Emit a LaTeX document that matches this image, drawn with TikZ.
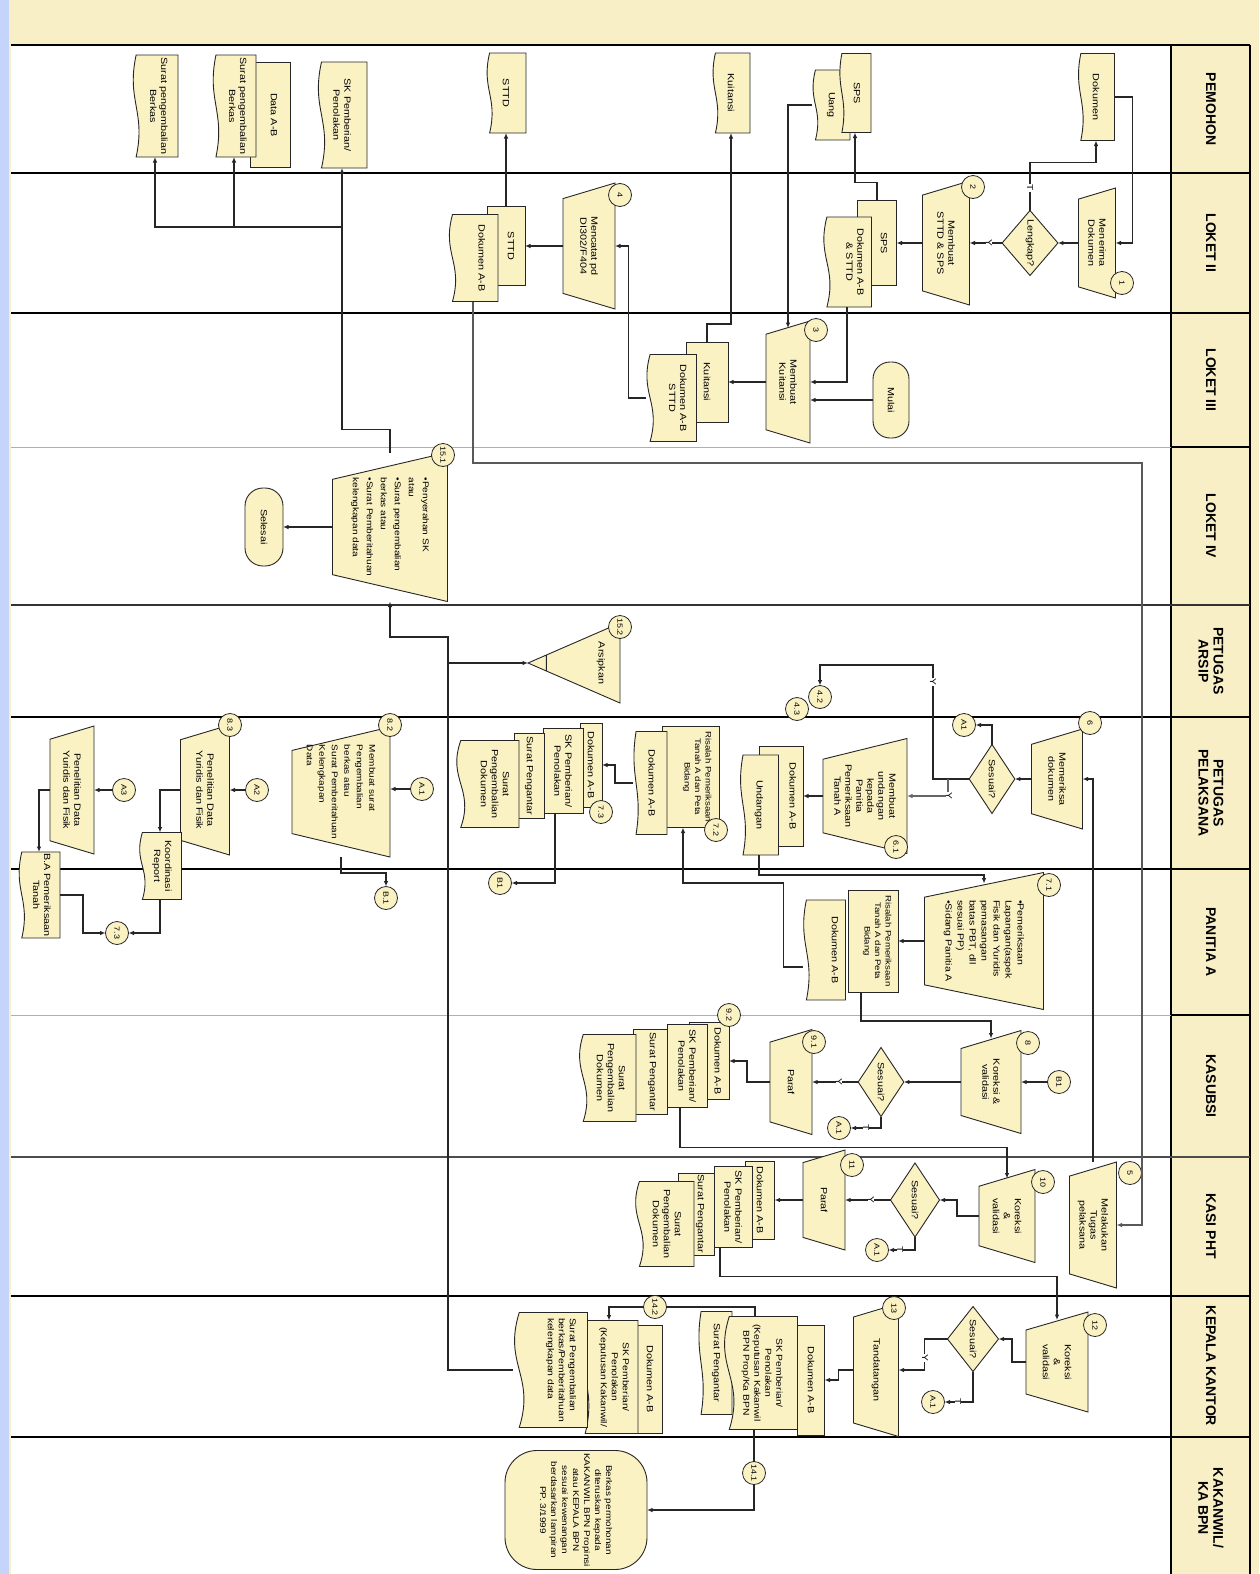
\documentclass[tikz,border=0pt]{standalone}
\usepackage{fontspec}
\setmainfont{Liberation Sans}
\newfontfamily\wfont{Liberation Sans}[FakeStretch=1.2]
\usetikzlibrary{arrows.meta,shapes.geometric,calc}
\definecolor{shp}{RGB}{251,242,196}
\definecolor{frm}{RGB}{249,239,199}
\definecolor{blu}{RGB}{196,212,250}
\definecolor{lgr}{RGB}{175,175,175}
\makeatletter
\pgfdeclareshape{docu}{%
  \inheritsavedanchors[from=rectangle]%
  \inheritanchorborder[from=rectangle]%
  \inheritanchor[from=rectangle]{center}%
  \inheritanchor[from=rectangle]{north}%
  \inheritanchor[from=rectangle]{south}%
  \inheritanchor[from=rectangle]{east}%
  \inheritanchor[from=rectangle]{west}%
  \inheritanchor[from=rectangle]{north east}%
  \inheritanchor[from=rectangle]{north west}%
  \inheritanchor[from=rectangle]{south east}%
  \inheritanchor[from=rectangle]{south west}%
  \backgroundpath{%
    \southwest\pgf@xa=\pgf@x\pgf@ya=\pgf@y
    \northeast\pgf@xb=\pgf@x\pgf@yb=\pgf@y
    \edef\dcxa{\strip@pt\pgf@xa}\edef\dcya{\strip@pt\pgf@ya}%
    \edef\dcxb{\strip@pt\pgf@xb}\edef\dcyb{\strip@pt\pgf@yb}%
    \pgfmathsetmacro\dcA{0.09*(\dcyb-\dcya)}%
    \pgfmathsetmacro\dcyw{\dcya+\dcA}%
    \pgfmathsetmacro\dcyu{\dcya+3.4*\dcA}%
    \pgfmathsetmacro\dcyd{\dcya-1.4*\dcA}%
    \pgfmathsetmacro\dcxc{\dcxb-0.45*(\dcxb-\dcxa)}%
    \pgfmathsetmacro\dcxd{\dcxa+0.45*(\dcxb-\dcxa)}%
    \pgfpathmoveto{\pgfqpoint{\dcxa pt}{\dcyw pt}}%
    \pgfpathlineto{\pgfqpoint{\dcxa pt}{\dcyb pt}}%
    \pgfpathlineto{\pgfqpoint{\dcxb pt}{\dcyb pt}}%
    \pgfpathlineto{\pgfqpoint{\dcxb pt}{\dcyw pt}}%
    \pgfpathcurveto{\pgfqpoint{\dcxc pt}{\dcyu pt}}{\pgfqpoint{\dcxd pt}{\dcyd pt}}{\pgfqpoint{\dcxa pt}{\dcyw pt}}%
    \pgfpathclose
  }%
}
\pgfdeclareshape{manop}{%
  \inheritsavedanchors[from=rectangle]%
  \inheritanchorborder[from=rectangle]%
  \inheritanchor[from=rectangle]{center}%
  \inheritanchor[from=rectangle]{north}%
  \inheritanchor[from=rectangle]{south}%
  \inheritanchor[from=rectangle]{east}%
  \inheritanchor[from=rectangle]{west}%
  \inheritanchor[from=rectangle]{north east}%
  \inheritanchor[from=rectangle]{north west}%
  \inheritanchor[from=rectangle]{south east}%
  \inheritanchor[from=rectangle]{south west}%
  \backgroundpath{%
    \southwest\pgf@xa=\pgf@x\pgf@ya=\pgf@y
    \northeast\pgf@xb=\pgf@x\pgf@yb=\pgf@y
    \edef\mopxa{\strip@pt\pgf@xa}\edef\mopya{\strip@pt\pgf@ya}%
    \edef\mopxb{\strip@pt\pgf@xb}\edef\mopyb{\strip@pt\pgf@yb}%
    \pgfmathsetmacro\mops{min(0.3*(\mopyb-\mopya),0.18*(\mopxb-\mopxa))}%
    \pgfmathsetmacro\mopxc{\mopxa+\mops}%
    \pgfmathsetmacro\mopxd{\mopxb-\mops}%
    \pgfpathmoveto{\pgfqpoint{\mopxa pt}{\mopyb pt}}%
    \pgfpathlineto{\pgfqpoint{\mopxb pt}{\mopyb pt}}%
    \pgfpathlineto{\pgfqpoint{\mopxd pt}{\mopya pt}}%
    \pgfpathlineto{\pgfqpoint{\mopxc pt}{\mopya pt}}%
    \pgfpathclose
  }%
}
\pgfdeclareshape{archv}{%
  \inheritsavedanchors[from=rectangle]%
  \inheritanchorborder[from=rectangle]%
  \inheritanchor[from=rectangle]{center}%
  \inheritanchor[from=rectangle]{north}%
  \inheritanchor[from=rectangle]{south}%
  \inheritanchor[from=rectangle]{east}%
  \inheritanchor[from=rectangle]{west}%
  \inheritanchor[from=rectangle]{north east}%
  \inheritanchor[from=rectangle]{north west}%
  \inheritanchor[from=rectangle]{south east}%
  \inheritanchor[from=rectangle]{south west}%
  \backgroundpath{%
    \southwest\pgf@xa=\pgf@x\pgf@ya=\pgf@y
    \northeast\pgf@xb=\pgf@x\pgf@yb=\pgf@y
    \edef\arxa{\strip@pt\pgf@xa}\edef\arya{\strip@pt\pgf@ya}%
    \edef\arxb{\strip@pt\pgf@xb}\edef\aryb{\strip@pt\pgf@yb}%
    \pgfmathsetmacro\arxm{0.5*(\arxa+\arxb)}%
    \pgfmathsetmacro\arpa{\arxm+0.2*(\arxa-\arxm)}%
    \pgfmathsetmacro\arpb{\arxm+0.2*(\arxb-\arxm)}%
    \pgfmathsetmacro\arpy{\arya+0.2*(\aryb-\arya)}%
    \pgfpathmoveto{\pgfqpoint{\arxa pt}{\aryb pt}}%
    \pgfpathlineto{\pgfqpoint{\arxb pt}{\aryb pt}}%
    \pgfpathlineto{\pgfqpoint{\arxm pt}{\arya pt}}%
    \pgfpathclose
    \pgfpathmoveto{\pgfqpoint{\arpa pt}{\arpy pt}}%
    \pgfpathlineto{\pgfqpoint{\arpb pt}{\arpy pt}}%
  }%
}
\makeatother
\tikzset{
  sh/.style={rotate=-90, draw=black!85, line width=0.9pt, fill=shp,
    font=\wfont\fontsize{9}{11}\selectfont, align=center, inner sep=1pt, outer sep=0pt},
  sz/.style 2 args={minimum width=#1pt, minimum height=#2pt},
  tup/.style={text depth=#1pt},
  box/.style={sh, rectangle},
  doc/.style={sh, shape=docu},
  manop/.style={sh, shape=manop},
  dec/.style={sh, diamond, inner sep=0pt},
  term/.style={sh, rectangle, rounded corners=#1pt},
  arch/.style={sh, shape=archv},
  num/.style={circle, draw=black!85, line width=0.8pt, fill=shp, rotate=-90,
    font=\wfont\fontsize{7.5}{8}\selectfont, minimum size=23pt, inner sep=0pt, outer sep=0pt},
  conn/.style={draw=black!85, line width=1.2pt, -{Latex[length=5.5pt,width=4.5pt]}},
  cline/.style={draw=black!85, line width=1.2pt},
  lbl/.style={rotate=-90, fill=white, inner sep=0.5pt, font=\wfont\fontsize{8.5}{9}\selectfont},
  lane/.style={rotate=-90, font=\bfseries\fontsize{14}{15}\selectfont, align=center},
}
\begin{document}
\begin{tikzpicture}[x=1pt,y=-1pt]
\useasboundingbox (0,0) rectangle (1259,1574);
\fill[frm] (0,0) rectangle (1259,1574);
\fill[blu] (0,0) rectangle (9,1574);
\fill[white] (11,46) rectangle (1171,1574);
% frame and lanes
\draw[line width=2pt] (11,45) -- (1250,45);
\draw[line width=2pt] (1171,45) -- (1171,1574);
\draw[line width=1.6pt] (1250,45) -- (1250,1574);
\draw[line width=2pt] (11,173) -- (1250,173);
\draw[line width=1.6pt] (11,313) -- (1250,313);
\draw[lgr, line width=1pt] (11,447) -- (1171,447);
\draw[line width=1.2pt] (1171,447) -- (1250,447);
\draw[black!80, line width=1.2pt] (11,605) -- (1250,605);
\draw[line width=2.4pt] (11,717) -- (1250,717);
\draw[line width=1.6pt] (11,869) -- (1250,869);
\draw[lgr, line width=1pt] (11,1015) -- (1171,1015);
\draw[line width=1.2pt] (1171,1015) -- (1250,1015);
\draw[black!70, line width=1.2pt] (11,1157) -- (1250,1157);
\draw[line width=2.4pt] (11,1296) -- (1250,1296);
\draw[line width=2.4pt] (11,1437) -- (1250,1437);
% lane labels
\node[lane] (lbA) at (1211,109) {PEMOHON};
\node[lane] (lbB) at (1211,243) {LOKET II};
\node[lane] (lbC) at (1211,380) {LOKET III};
\node[lane] (lbD) at (1211,526) {LOKET IV};
\node[lane] (lbE) at (1211,661) {PETUGAS\\ARSIP};
\node[lane] (lbF) at (1211,793) {PETUGAS\\PELAKSANA};
\node[lane] (lbG) at (1211,942) {PANITIA A};
\node[lane] (lbH) at (1211,1086) {KASUBSI};
\node[lane] (lbI) at (1211,1226) {KASI PHT};
\node[lane] (lbJ) at (1211,1366) {KEPALA KANTOR};
\node[lane] (lbK) at (1211,1508) {KAKANWIL/\\KA BPN};

% ---------- PEMOHON
\node[doc, sz={87}{37}] (pDok) at (1096,97) {Dokumen};
\node[doc, sz={70}{38}] (pUang) at (831,105) {Uang};
\node[doc, sz={79}{32}, tup=4] (pSPS) at (855,93) {SPS};
\node[doc, sz={80}{38}] (pKuit) at (731,93) {Kuitansi};
\node[doc, sz={80}{40}] (pSTTD) at (506,93) {STTD};
\node[doc, sz={106}{50}] (pSK) at (342,115) {SK Pemberian/\\Penolakan};
\node[box, sz={105}{40}, tup=8] (pData) at (270,115) {Data A-B};
\node[doc, sz={102}{44}, tup=8] (pSPB1) at (234,106) {Surat pengembalian\\Berkas};
\node[doc, sz={102}{46}, tup=8] (pSPB2) at (155,106) {Surat pengembalian\\Berkas};

% ---------- LOKET II
\node[manop, sz={110}{37}] (l2Terima) at (1097,243) {Menerima\\Dokumen};
\node[dec, sz={65}{44}] (l2Lengkap) at (1030,243) {Lengkap?};
\node[manop, sz={124}{47}] (l2Buat) at (946,243) {Membuat\\STTD \& SPS};
\node[box, sz={85}{39}, tup=14] (l2SPS) at (877,243) {SPS};
\node[doc, sz={90}{49}, tup=16] (l2Dok) at (847,262) {Dokumen A-B\\\& STTD};
\node[manop, sz={126}{52}] (l2Catat) at (589,246) {Mencatat pd\\DI302/F404};
\node[box, sz={79}{38}, tup=10] (l2STTD) at (506,246) {STTD};
\node[doc, sz={87}{50}, tup=18] (l2DokAB) at (473,258) {Dokumen A-B};

% ---------- LOKET III
\node[term=17, sz={76}{36}] (l3Mulai) at (891,400) {Mulai};
\node[manop, sz={122}{44}] (l3Kuit) at (788,382) {Membuat\\Kuitansi};
\node[box, sz={80}{42}] (l3KuitR) at (707,382) {Kuitansi};
\node[doc, sz={87}{51}, tup=14] (l3Dok) at (671,398) {Dokumen A-B\\STTD};

% ---------- LOKET IV
\node[manop, sz={149}{115}, align=left, font=\wfont\fontsize{8.4}{14}\selectfont] (l4Serah) at (390,527)
  {•Penyerahan SK\\atau\\•Surat pengembalian\\berkas atau\\•Surat Pemberitahuan\\kelengkapan data};
\node[term=18, sz={78}{38}] (l4Selesai) at (264,527) {Selesai};

% ---------- PETUGAS ARSIP
\node[arch, sz={80}{92}] (arsip) at (574,663) {};
\node[rotate=-90, font=\wfont\fontsize{9}{10}\selectfont] (arsiptxt) at (601,663) {Arsipkan};

% ---------- PETUGAS PELAKSANA
\node[manop, sz={100}{51}] (pl6) at (1057,779) {Memeriksa\\dokumen};
\node[dec, sz={69}{43}] (pl6d) at (992,779) {Sesuai?};
\node[manop, sz={115}{84}] (pl61) at (865,796) {Membuat\\undangan\\kepada\\Panitia\\Pemeriksaan\\Tanah A};
\node[box, sz={100}{44}, tup=24] (pl61R) at (781,796) {Dokumen A-B};
\node[doc, sz={100}{39}] (pl61U) at (759,805) {Undangan};
\node[box, sz={101}{57}, tup=14, font=\wfont\fontsize{8}{10.5}\selectfont] (pl72R) at (691,777) {Risalah Pemeriksaan\\Tanah A dan Peta\\Bidang};
\node[doc, sz={103}{34}, tup=4] (pl72D) at (650,783) {Dokumen A-B};
\node[box, sz={84}{22}] (pl73a) at (591,765) {Dokumen A-B};
\node[box, sz={85}{40}] (pl73b) at (563,771) {SK Pemberian/\\Penolakan};
\node[box, sz={85}{30}] (pl73c) at (529,776) {Surat Pengantar};
\node[doc, sz={87}{64}, tup=16] (pl73d) at (487,784) {Surat\\Pengembalian\\Dokumen};
\node[manop, sz={130}{98}, align=left, font=\wfont\fontsize{8.3}{12.5}\selectfont] (pl82) at (341,792)
  {Membuat surat\\Pengembalian\\berkas atau\\Surat Pemberitahuan\\Kelengkapan\\Data};
\node[manop, sz={130}{49}] (pl83a) at (205,790) {Penelitian Data\\Yuridis dan Fisik};
\node[manop, sz={128}{44}] (pl83b) at (72,790) {Penelitian Data\\Yuridis dan Fisik};
\node[doc, sz={67}{43}, tup=6] (plKor) at (160,866) {Koordinasi\\Report};
\node[doc, sz={86}{42}, tup=6] (plBA) at (39,895) {B.A Pemeriksaan\\Tanah};

% ---------- PANITIA A
\node[manop, sz={137}{119}, align=left, font=\wfont\fontsize{8.8}{12}\selectfont] (pa71) at (984,941)
  {•Pemeriksaan\\Lapangan(aspek\\Fisik dan Yuridis\\pemasangan\\batas PBT, dll\\sesuai PP)\\•Sidang Panitia A};
\node[box, sz={102}{50}, tup=10, font=\wfont\fontsize{8}{10.5}\selectfont] (pa71R) at (873,941) {Risalah Pemeriksaan\\Tanah A dan Peta\\Bidang};
\node[doc, sz={100}{43}, tup=22] (pa71D) at (824,950) {Dokumen A-B};

% ---------- KASUBSI
\node[manop, sz={103}{60}] (ks8) at (991,1082) {Koreksi \&\\validasi};
\node[dec, sz={69}{44}] (ks8d) at (881,1082) {Sesuai?};
\node[manop, sz={105}{42}] (ks91) at (791,1082) {Paraf};
\node[box, sz={77}{40}, tup=18] (ksa) at (709,1061) {Dokumen A-B};
\node[box, sz={83}{40}] (ksb) at (687,1066) {SK Pemberian/\\Penolakan};
\node[box, sz={85}{34}, tup=6] (ksc) at (650,1072) {Surat Pengantar};
\node[doc, sz={87}{58}, tup=8] (ksd) at (607,1078) {Surat\\Pengembalian\\Dokumen};

% ---------- KASI PHT
\node[manop, sz={126}{47}] (kp5) at (1093,1225) {Melakukan\\Tugas\\pelaksana};
\node[manop, sz={93}{56}] (kp10) at (1007,1216) {Koreksi\\\&\\validasi};
\node[dec, sz={74}{49}] (kp10d) at (915,1200) {Sesuai?};
\node[manop, sz={100}{42}] (kp11) at (824,1200) {Paraf};
\node[box, sz={78}{29}] (kpa) at (760,1200) {Dokumen A-B};
\node[box, sz={81}{38}] (kpb) at (733,1207) {SK Pemberian/\\Penolakan};
\node[box, sz={82}{36}, tup=10] (kpc) at (696,1214) {Surat Pengantar};
\node[doc, sz={85}{60}, tup=6] (kpd) at (664,1224) {Surat\\Pengembalian\\Dokumen};

% ---------- KEPALA KANTOR
\node[manop, sz={100}{62}] (kk12) at (1057,1362) {Koreksi\\\&\\validasi};
\node[dec, sz={65}{51}] (kk12d) at (973,1339) {Sesuai?};
\node[manop, sz={133}{45}] (kk13) at (876,1370) {Tandatangan};
\node[box, sz={110}{27}] (kka) at (811,1380) {Dokumen A-B};
\node[doc, sz={103}{34}, tup=4] (kkc) at (715,1363) {Surat Pengantar};
\node[doc, sz={113}{75}, tup=6, font=\wfont\fontsize{8.6}{11}\selectfont] (kkb) at (760,1373) {SK Pemberian/\\Penolakan\\(Keputusan Kakanwil\\BPN Prop/Ka BPN};
\node[box, sz={108}{25}] (kk2a) at (650,1379) {Dokumen A-B};
\node[doc, sz={113}{58}, tup=12, font=\wfont\fontsize{8.6}{11}\selectfont] (kk2b) at (609,1377) {SK Pemberian/\\Penolakan\\(Keputusan Kakanwil/};
\node[doc, sz={115}{75}, tup=24, align=left, font=\wfont\fontsize{8.6}{11}\selectfont] (kk2c) at (550,1370) {Surat Pengembalian\\berkas/Pemberitahuan\\kelengkapan data};

% ---------- KAKANWIL
\node[term=32, sz={119}{142}, font=\wfont\fontsize{8.3}{11}\selectfont] (kwTerm) at (576,1510)
  {Berkas permohonan\\diteruskan kepada\\KAKANWIL BPN Propinsi\\atau KEPALA BPN\\sesuai kewenangan\\berdasarkan lampiran\\PP. 3/1999};

% ---------- step numbers
\node[num] (n1) at (1122,283) {1};
\node[num] (n2) at (973,187) {2};
\node[num] (n3) at (816,330) {3};
\node[num] (n4) at (620,195) {4};
\node[num] (n151) at (443,455) {15.1};
\node[num] (n152) at (620,627) {15.2};
\node[num] (n5) at (1130,1173) {5};
\node[num] (n6) at (1090,723) {6};
\node[num] (n61) at (896,847) {6.1};
\node[num] (n71) at (1049,885) {7.1};
\node[num] (n72) at (716,830) {7.2};
\node[num] (n73s) at (601,812) {7.3};
\node[num] (n82) at (390,725) {8.2};
\node[num] (n83) at (230,725) {8.3};
\node[num] (n8) at (1028,1043) {8};
\node[num] (n91) at (814,1042) {9.1};
\node[num] (n92) at (729,1015) {9.2};
\node[num] (n10) at (1043,1182) {10};
\node[num] (n11) at (852,1165) {11};
\node[num] (n12) at (1095,1325) {12};
\node[num] (n13) at (894,1308) {13};
% ---------- connectors (off-page)
\node[num] (cA1a) at (964,725) {A1};
\node[num] (c43) at (797,709) {4.3};
\node[num] (c42) at (820,697) {4.2};
\node[num] (cA1b) at (422,789) {A.1};
\node[num] (cA2) at (257,790) {A2};
\node[num] (cA3) at (124,790) {A3};
\node[num] (cB1a) at (500,883) {B1};
\node[num] (cB1b) at (386,898) {B.1};
\node[num] (c73) at (117,933) {7.3};
\node[num] (ksB1) at (1059,1082) {B1};
\node[num] (ksA1) at (839,1128) {A.1};
\node[num] (kpA1) at (877,1250) {A.1};
\node[num] (kkA1) at (933,1402) {A.1};
\node[num] (c141) at (754,1473) {14.1};
\node[num] (c142) at (655,1307) {14.2};

% ---------- edges
\draw[conn] (pDok.north) -- ++(18,0) |- (l2Terima);
\draw[conn] (l2Terima) -- (l2Lengkap);
\draw[conn] (l2Lengkap.west) -- ++(0,-48) -| (pDok.east);
\draw[conn] (l2Lengkap) -- (l2Buat);
\draw[conn] (l2Buat) -- (l2SPS);
\draw[conn] (l2SPS.west) -- ++(0,-18) -| (pSPS.east);
\draw[conn] (pUang.south) -| ($(l3Kuit.west)+(0,7)$);
\draw[conn] (l2Dok.east) |- (l3Kuit);
\draw[conn] (l3Mulai) -- (l3Kuit.north |- l3Mulai);
\draw[conn] (l3Kuit) -- (l3KuitR);
\draw[conn] (l3KuitR.west) -- ++(0,-18) -| (pKuit.east);
\draw[conn] (l3Dok.south) -- ++(-17,0) |- (l2Catat);
\draw[conn] (l2Catat) -- (l2STTD);
\draw[conn, line width=2.4pt] (l2STTD.west) -- (pSTTD.east);
\draw[conn, draw=black!65] (l2DokAB.east) |- (1142,463) |- (kp5);
\draw[conn] (l4Serah) -- (l4Selesai);
\draw[conn] (l4Serah.west) -- ++(0,-23) -| (pSK.east);
\coordinate (j1) at (342,227);
\draw[conn] (j1) -| (pSPB1.east);
\draw[conn] (j1) -| (pSPB2.east);
\draw[conn, line width=1.8pt] (kk2c.south) -| (448,637) -| (l4Serah.east);
\coordinate (j2) at (448,663);
\draw[conn] (j2) -- (arsip.south);
% pelaksana
\draw[conn] (pl6) -- (pl6d);
\draw[conn] (kp5.west) |- (pl6);
\draw[conn] (pl6d.west) |- (cA1a);
\draw[conn] (pl6d.south) -- (933,779) |- (820,665) -- (c42);
\draw[conn, draw=black!60] (948,779) |- (pl61);
\draw[conn] (pl61) -- (pl61R);
\draw[conn] (pl61U.east) -- ++(0,20) -| ($(pa71.west)+(0,11)$);
\draw[conn] (pa71) -- (pa71R);
\coordinate (x683) at (683,0);
\draw[conn] ($(pa71D.south)+(0,17)$) -- ++(-19,0) |- (683,883) -- (x683 |- pl72R.east);
\draw[conn] (pl72D.south) -- ++(-18,0) |- (pl73a);
\draw[conn] ($(pl73b.east)+(-8,0)$) |- (cB1a);
\draw[conn] (cA1b) -- (pl82.north |- cA1b);
\draw[conn] (pl82.east) |- (386,873) -- (cB1b);
\draw[conn] (cA2) -- (pl83a.north |- cA2);
\draw[conn] (pl83a.south) -| (plKor.west);
\draw[conn] (plKor.east) |- (c73);
\draw[conn] (cA3) -- (pl83b.north |- cA3);
\draw[conn] (pl83b.south) -| (plBA.west);
\draw[conn] (plBA.north) -- ++(23,0) |- (c73);
% kasubsi
\draw[conn] ($(pa71R.east)+(-12,0)$) -- ++(0,29) -| ($(ks8.west)+(0,8)$);
\draw[conn] (ksB1) -- (ks8.north |- ksB1);
\draw[conn] (ks8) -- (ks8d);
\draw[conn] (ks8d) -- (ks91);
\draw[conn] (ks8d.east) |- (ksA1);
\draw[conn] (ks91.south) -- ++(-23,0) |- (ksa);
\draw[conn] ($(ksb.east)+(-7,0)$) -- ++(0,40) -| ($(kp10.west)+(0,9)$);
% kasi pht
\draw[conn] (kp10.south) -- ++(-22,0) |- (kp10d);
\draw[conn] (kp10d) -- (kp11);
\draw[conn] (kp10d.east) |- (kpA1);
\draw[conn] (kp11) -- (kpa);
\draw[conn] ($(kpb.east)+(-13,0)$) -- ++(0,29) -| ($(kk12.west)+(0,8)$);
% kepala kantor
\draw[conn] (kk12.south) -- ++(-14,0) |- (kk12d);
\draw[conn] (kk12d.south) -- ++(-23,0) |- (kk13);
\draw[conn] (kk12d.east) |- (kkA1);
\draw[conn] (kk13.south) -- ++(-15,0) |- (kka);
\draw[cline] ($(kkb.east)+(-6,0)$) -- (c141);
\draw[conn] (c141) |- (kwTerm);
\draw[cline] ($(kkb.west)+(-5,0)$) |- (c142);
\draw[conn] (c142) -| (kk2b.west);

% ---------- Y / T labels
\node[lbl] (t1) at (1030,188) {T};
\node[lbl] (y1) at (989,243) {Y};
\node[lbl] (y2) at (933,682) {Y};
\node[lbl] (y3) at (949,796) {Y};
\node[lbl] (y4) at (839,1082) {Y};
\node[lbl] (t2) at (866,1128) {T};
\node[lbl] (y5) at (871,1200) {Y};
\node[lbl] (t3) at (900,1250) {T};
\node[lbl] (y6) at (925,1358) {Y};
\node[lbl] (t4) at (958,1402) {T};
\end{tikzpicture}
\end{document}
